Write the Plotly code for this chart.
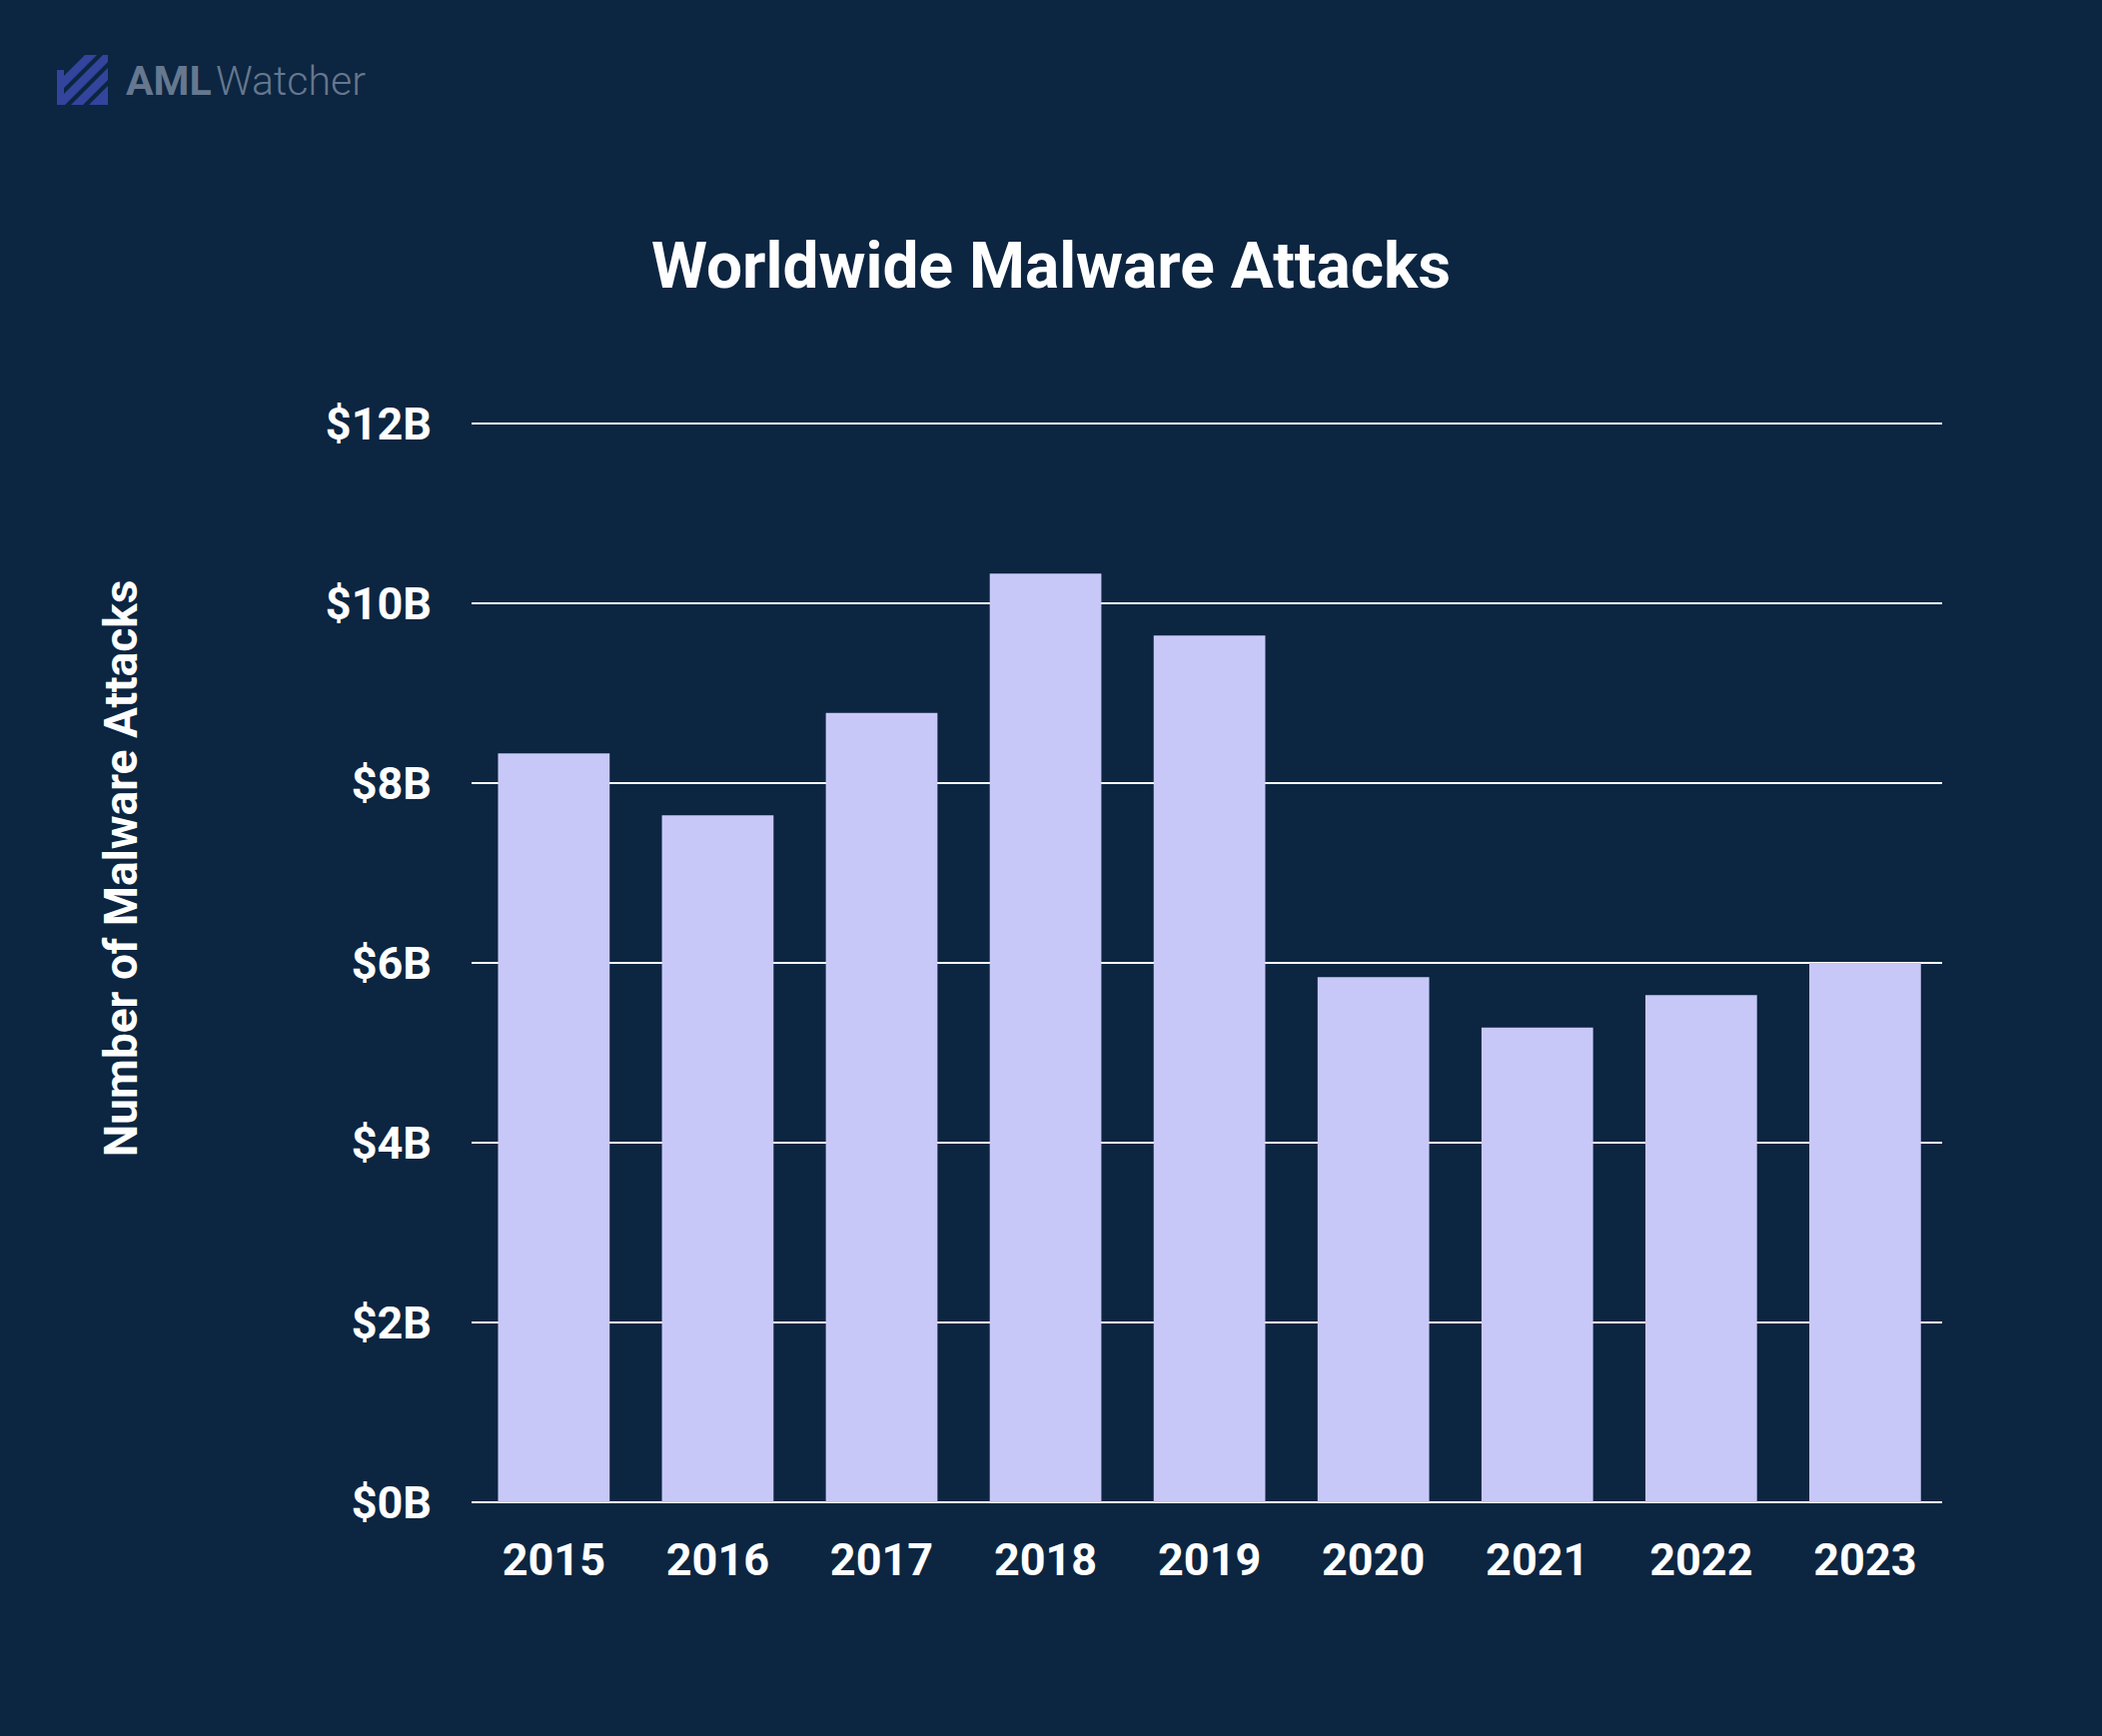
import plotly.graph_objects as go

# ---- data ----
years = ["2015", "2016", "2017", "2018", "2019", "2020", "2021", "2022", "2023"]
attacks_billion = [8.33, 7.64, 8.78, 10.33, 9.64, 5.84, 5.28, 5.64, 6.00]
y_tick_vals = [0, 2, 4, 6, 8, 10, 12]
y_tick_text = ["$0B", "$2B", "$4B", "$6B", "$8B", "$10B", "$12B"]

title_text = "Worldwide Malware Attacks"
y_title_text = "Number of Malware Attacks"

BG = "#0C2541"
BAR = "#C8C8F8"
FONT = "Roboto"

W, H = 2104, 1738
L, R = 472, 160
B = 1738 - 1503.7
T = 421.9
plot_w = W - L - R
plot_h = H - T - B

def px_x(x):
    return (x - L) / plot_w

def px_y(y):
    return (H - B - y) / plot_h

fig = go.Figure()
fig.add_trace(go.Bar(
    x=years, y=attacks_billion,
    marker=dict(color=BAR, line=dict(width=0)),
    hoverinfo="x+y",
))

fig.update_layout(
    width=W, height=H,
    paper_bgcolor=BG, plot_bgcolor=BG,
    margin=dict(l=L, r=R, t=T, b=B, pad=0),
    bargap=0.319,
    showlegend=False,
    title=dict(
        text=f"<b>{title_text}</b>",
        x=0.5, xref="container", xanchor="center",
        y=1 - 266 / H, yref="container", yanchor="middle",
        font=dict(family=FONT, size=64, color="#FFFFFF"),
    ),
)

fig.update_xaxes(
    type="category",
    range=[-0.502, 8.470],
    showgrid=False, zeroline=False, showline=False,
    ticks="outside", ticklen=18, tickcolor="rgba(0,0,0,0)",
    tickfont=dict(family=FONT, size=45, color="#FFFFFF", weight="bold"),
)
fig.update_yaxes(
    range=[0, 12.02],
    tickvals=y_tick_vals, ticktext=y_tick_text,
    showgrid=True, gridcolor="#FFFFFF", gridwidth=2,
    zeroline=True, zerolinecolor="#FFFFFF", zerolinewidth=2,
    showline=False,
    ticks="outside", ticklen=30, tickcolor="rgba(0,0,0,0)",
    tickfont=dict(family=FONT, size=45, color="#FFFFFF", weight="bold"),
)

# y-axis title (centered on the page)
fig.add_annotation(
    text=f"<b>{y_title_text}</b>",
    xref="paper", yref="paper",
    x=px_x(121), y=px_y(869), xanchor="center", yanchor="middle",
    textangle=-90, showarrow=False,
    font=dict(family=FONT, size=46, color="#FFFFFF"),
)

# logo text
fig.add_annotation(
    text="<b>AML</b>",
    xref="paper", yref="paper",
    x=px_x(124), y=px_y(81), xanchor="left", yanchor="middle",
    showarrow=False,
    font=dict(family=FONT, size=41, color="#66788F"),
)
fig.add_annotation(
    text="Watcher",
    xref="paper", yref="paper",
    x=px_x(214), y=px_y(81), xanchor="left", yanchor="middle",
    showarrow=False,
    font=dict(family=FONT, size=41, color="#66788F", weight=300),
)

# logo icon (diagonal stripes), pixel-sized shapes anchored at icon bottom-left
ICON = "#33449D"
icon_paths = [
    "M0,0 L0,35 L7,35 L7,0 Z",
    "M0,10 L40,50 L28,50 L0,22 Z",
    "M0,4 L46,50 L51,50 L51,43 L8,0 L0,0 Z",
    "M14,0 L51,37 L51,25 L26,0 Z",
    "M32,0 L51,19 L51,0 Z",
]
for p in icon_paths:
    fig.add_shape(
        type="path", path=p,
        xref="paper", yref="paper",
        xsizemode="pixel", ysizemode="pixel",
        xanchor=px_x(57), yanchor=px_y(105),
        fillcolor=ICON, line=dict(width=0),
        layer="above",
    )

fig.write_html("out.html")
